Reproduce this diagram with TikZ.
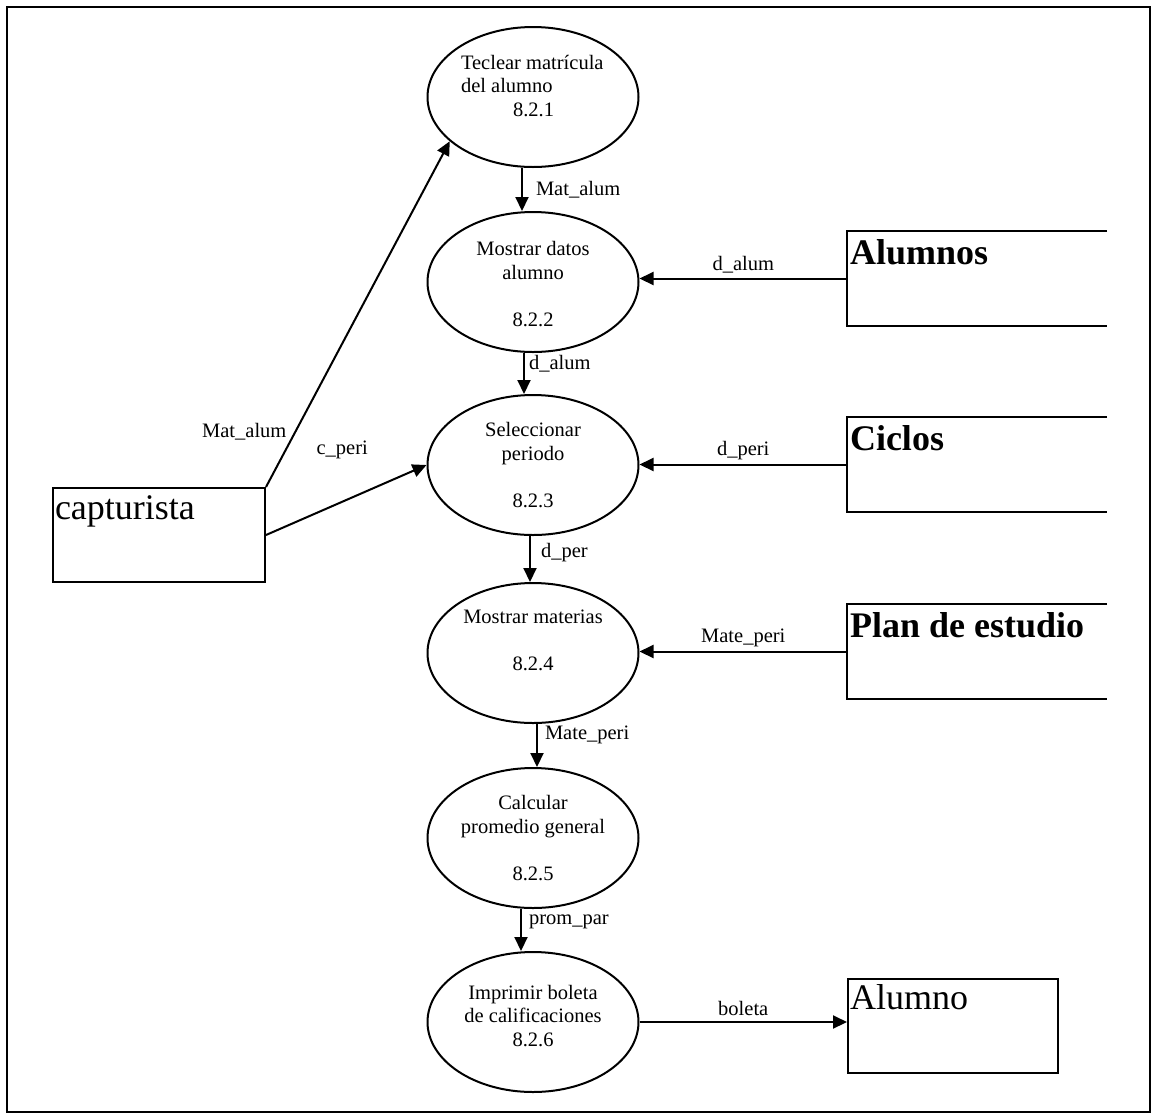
\documentclass[tikz,border=0pt]{standalone}
\usepackage{fontspec}
\setmainfont{Liberation Serif}
\usetikzlibrary{arrows.meta,shapes.geometric}
\begin{document}
\begin{tikzpicture}[x=0.5pt,y=-0.5pt,
  line width=1pt,
  proc/.style={draw,ellipse,minimum width=105.5pt,minimum height=70pt,inner sep=0pt},
  ptext/.style={font=\fontsize{10.25}{11.75}\selectfont,align=center,inner sep=0pt},
  flow/.style={-{Triangle[length=7pt,width=6.5pt]}},
  lbl/.style={font=\fontsize{10.25}{12}\selectfont,inner sep=0pt},
  store/.style={minimum width=129pt,minimum height=46.5pt,inner sep=0pt},
  entity/.style={draw,minimum width=106pt,minimum height=47pt,inner sep=0pt},
  stitle/.style={font=\fontsize{18}{20}\selectfont\bfseries,inner sep=0pt,anchor=base west},
  etitle/.style={font=\fontsize{18}{20}\selectfont,inner sep=0pt,anchor=base west}]

\useasboundingbox (0,0) rectangle (1152,1115);
\draw (7,7) rectangle (1150,1112);

% processes
\node[proc] (e1) at (533,97) {};
\node[ptext,align=left,anchor=west] (t1) at ([xshift=-36.5pt,yshift=5.5pt]e1.center)
  {Teclear matrícula\\del alumno\\\hspace*{26pt}8.2.1};
\node[proc] (e2) at (533,282) {};
\node[ptext] (t2) at ([yshift=-1pt]e2.center) {Mostrar datos\\alumno\\[11.75pt]8.2.2};
\node[proc] (e3) at (533,465) {};
\node[ptext] (t3) at (e3.center) {Seleccionar\\periodo\\[11.75pt]8.2.3};
\node[proc] (e4) at (533,653) {};
\node[ptext] (t4) at ([yshift=6.25pt]e4.center) {Mostrar materias\\[11.75pt]8.2.4};
\node[proc] (e5) at (533,838) {};
\node[ptext] (t5) at (e5.center) {Calcular\\promedio general\\[11.75pt]8.2.5};
\node[proc] (e6) at (533,1022) {};
\node[ptext] (t6) at ([yshift=3pt]e6.center) {Imprimir boleta\\de calificaciones\\8.2.6};

% data stores (open on the right)
\node[store] (s1) at (977,278.5) {};
\draw (s1.north east) -- (s1.north west) -- (s1.south west) -- (s1.south east);
\node[stitle] (s1t) at ([xshift=1pt,yshift=-16.5pt]s1.north west) {Alumnos};
\node[store] (s2) at (977,464.5) {};
\draw (s2.north east) -- (s2.north west) -- (s2.south west) -- (s2.south east);
\node[stitle] (s2t) at ([xshift=1pt,yshift=-16.5pt]s2.north west) {Ciclos};
\node[store] (s3) at (977,651.5) {};
\draw (s3.north east) -- (s3.north west) -- (s3.south west) -- (s3.south east);
\node[stitle] (s3t) at ([xshift=1pt,yshift=-16.5pt]s3.north west) {Plan de estudio};

% external entities
\node[entity] (c1) at (159,535) {};
\node[etitle] (c1t) at ([xshift=1pt,yshift=-16pt]c1.north west) {capturista};
\node[entity,minimum width=105pt] (a1) at (953,1025.5) {};
\node[etitle] (a1t) at ([xshift=1pt,yshift=-16pt]a1.north west) {Alumno};

% flows between processes
\draw[flow] ([xshift=-5.5pt]e1.south) -- node[lbl,pos=0.5,anchor=west,xshift=6.5pt]{Mat\_alum} ([xshift=-5.5pt]e2.north);
\draw[flow] ([xshift=-4.5pt]e2.south) -- node[lbl,pos=0.25,anchor=west,xshift=2pt]{d\_alum} ([xshift=-4.5pt]e3.north);
\draw[flow] ([xshift=-1.5pt]e3.south) -- node[lbl,pos=0.35,anchor=west,xshift=5pt]{d\_per} ([xshift=-1.5pt]e4.north);
\draw[flow] ([xshift=2pt]e4.south) -- node[lbl,pos=0.25,anchor=west,xshift=3.5pt]{Mate\_peri} ([xshift=2pt]e5.north);
\draw[flow] ([xshift=-6pt]e5.south) -- node[lbl,pos=0.3,anchor=west,xshift=3.5pt]{prom\_par} ([xshift=-6pt]e6.north);

% flows from data stores
\draw[flow] (s1.west) -- node[lbl,midway,yshift=7pt]{d\_alum} (s1.west -| e2.east);
\draw[flow] (s2.west) -- node[lbl,midway,yshift=7pt]{d\_peri} (s2.west -| e3.east);
\draw[flow] (s3.west) -- node[lbl,midway,yshift=7pt]{Mate\_peri} (s3.west -| e4.east);

% flows from and to external entities
\draw[flow] (c1.north east) -- node[lbl,pos=0.16,anchor=east,xshift=-4pt]{Mat\_alum} (e1.208);
\draw[flow] (c1.east) -- node[lbl,pos=0.475,yshift=26pt]{c\_peri} (e3.west);
\draw[flow] (e6.east) -- node[lbl,midway,yshift=7pt]{boleta} (e6.east -| a1.west);
\end{tikzpicture}
\end{document}
